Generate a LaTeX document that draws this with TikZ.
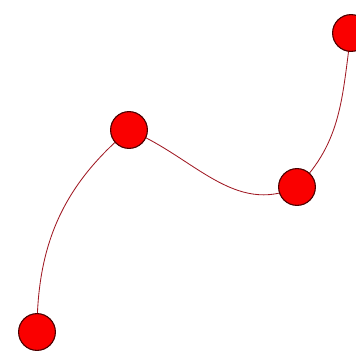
\documentclass[tikz,border=0pt]{standalone}
\usepackage{tikz}
\definecolor{dotred}{RGB}{250,0,0}
\definecolor{curvered}{RGB}{160,25,35}

\begin{document}
\begin{tikzpicture}[
    x=0.025cm, y=-0.025cm,
    dot/.style={circle, fill=dotred, draw=black!70!red, line width=0.8pt,
                minimum size=0.92cm, inner sep=0pt},
    curve/.style={draw=curvered, line width=0.6pt}
]
    \useasboundingbox (0,0) rectangle (356,356);

    % Points
    \coordinate (p1) at (37,332);
    \coordinate (p2) at (129,130);
    \coordinate (p3) at (297,187);
    \coordinate (p4) at (351,33);

    % Curve
    \draw[curve] (p1) to[out=90, in=220] (p2)
        to[out=-22, in=205] (p3)
        to[out=45, in=262] (p4);

    % Dots
    \node[dot] (d1) at (p1) {};
    \node[dot] (d2) at (p2) {};
    \node[dot] (d3) at (p3) {};
    \node[dot] (d4) at (p4) {};
\end{tikzpicture}
\end{document}
